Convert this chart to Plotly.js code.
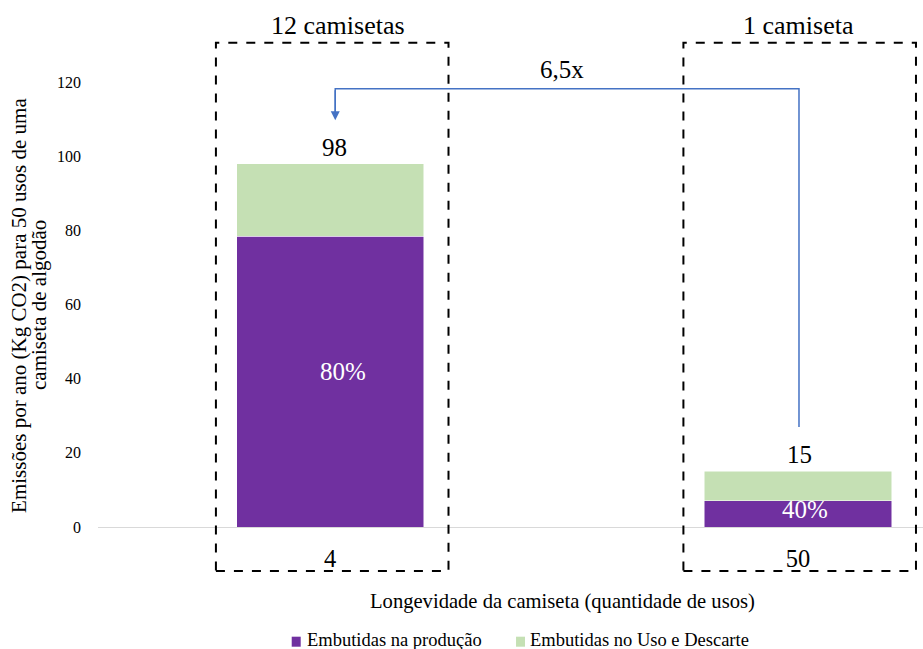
<!DOCTYPE html>
<html>
<head>
<meta charset="utf-8">
<script src="https://cdn.plot.ly/plotly-3.0.1.min.js"></script>
<style>html,body{margin:0;padding:0;background:#fff;}#chart{width:923px;height:649px;}</style>
</head>
<body>
<div id="chart"></div>
<script>
// Data
const categories = ['4', '50'];
const groupLabels = ['12 camisetas', '1 camiseta'];
const producao = [78.4, 7.1];
const usoDescarte = [19.6, 7.9];
const totals = [98, 15];
const pctLabels = ['80%', '40%'];
const ratioLabel = '6,5x';
const seriesNames = ['Embutidas na produção', 'Embutidas no Uso e Descarte'];
const yTicks = [0, 20, 40, 60, 80, 100, 120];
const yTitleLines = ['Emissões por ano (Kg CO2) para 50 usos de uma', 'camiseta de algodão'];
const xTitle = 'Longevidade da camiseta (quantidade de usos)';

const FONT = "'Liberation Serif', 'Times New Roman', serif";
const PURPLE = '#7030A0';
const GREEN = '#C5E0B4';
const BLUE = '#4472C4';
const colors = [PURPLE, GREEN];

const traces = [
  {type: 'bar', x: [0, 1], y: producao, name: seriesNames[0], marker: {color: PURPLE, line: {color: '#ffffff', width: 0.5}}, width: 0.4, hoverinfo: 'skip'},
  {type: 'bar', x: [0, 1], y: usoDescarte, name: seriesNames[1], marker: {color: GREEN, line: {color: '#ffffff', width: 0.5}}, width: 0.4, hoverinfo: 'skip'}
];

const annotations = [];
// totals above bars
totals.forEach((t, i) => annotations.push({x: i, y: t, xref: 'x', yref: 'y', text: String(t), showarrow: false, yanchor: 'bottom', yshift: 1, xshift: i === 0 ? 4 : 1, font: {family: FONT, size: 25, color: '#000'}}));
// percentages inside purple
pctLabels.forEach((p, i) => annotations.push({x: i, y: producao[i] / 2, xref: 'x', yref: 'y', text: p, showarrow: false, xshift: i === 0 ? 13 : 7, yshift: i === 0 ? 10 : 4, font: {family: FONT, size: 25, color: '#fff'}}));
// group labels
groupLabels.forEach((g, i) => annotations.push({x: i === 0 ? 0.017 : 1.002, y: 1.128, xref: 'x', yref: 'paper', yanchor: 'middle', xanchor: 'center', text: g, showarrow: false, font: {family: FONT, size: 26, color: '#000'}}));
// ratio label
annotations.push({x: 0.496, y: 1.027, xref: 'x', yref: 'paper', yanchor: 'middle', xanchor: 'center', text: ratioLabel, showarrow: false, font: {family: FONT, size: 25, color: '#000'}});
// arrow head
annotations.push({x: 0.011, y: 109.7, xref: 'x', yref: 'y', ax: 0.011, ay: 118.2, axref: 'x', ayref: 'y', text: '', showarrow: true, arrowhead: 2, arrowsize: 1.2, arrowwidth: 1.5, arrowcolor: BLUE});
// y axis title lines
yTitleLines.forEach((t, i) => annotations.push({x: i === 0 ? -0.0958 : -0.0715, y: 0.499, xref: 'paper', yref: 'paper', xanchor: 'center', yanchor: 'middle', textangle: -90, text: t, showarrow: false, font: {family: FONT, size: 21, color: '#000'}}));
// x axis title
annotations.push({x: 0.5636, y: -0.1663, xref: 'paper', yref: 'paper', xanchor: 'center', yanchor: 'middle', text: xTitle, showarrow: false, font: {family: FONT, size: 20.6, color: '#000'}});
// legend text
const legX = [0.2509, 0.5215];
const legSq = [[0.2348, 0.2457], [0.5067, 0.5176]];
seriesNames.forEach((n, i) => annotations.push({x: legX[i], y: -0.254, xref: 'paper', yref: 'paper', xanchor: 'left', yanchor: 'middle', text: n, showarrow: false, font: {family: FONT, size: 18.5, color: '#000'}}));

const dash = {color: '#000', width: 2, dash: 'dash'};
const shapes = [
  {type: 'rect', xref: 'x', yref: 'paper', x0: -0.244, x1: 0.253, y0: -0.099, y1: 1.088, line: dash},
  {type: 'rect', xref: 'x', yref: 'paper', x0: 0.755, x1: 1.252, y0: -0.099, y1: 1.088, line: dash},
  {type: 'path', xref: 'x', yref: 'y', path: 'M 1.002 27 L 1.002 118.2 L 0.011 118.2 L 0.011 111', line: {color: BLUE, width: 1.5}}
];
legSq.forEach((s, i) => shapes.push({type: 'rect', xref: 'paper', yref: 'paper', x0: s[0], x1: s[1], y0: -0.2465, y1: -0.269, fillcolor: colors[i], line: {width: 0}}));

const layout = {
  width: 923, height: 649,
  margin: {l: 98, r: 0, t: 82, b: 122},
  paper_bgcolor: '#fff', plot_bgcolor: '#fff',
  font: {family: FONT, color: '#000'},
  barmode: 'stack',
  showlegend: false,
  xaxis: {
    range: [-0.496, 1.267], tickmode: 'array', tickvals: [0, 1], ticktext: categories,
    showgrid: false, zeroline: false, showline: false, ticks: '',
    tickfont: {family: FONT, size: 24.5, color: '#000'}, ticklabelstandoff: 14
  },
  yaxis: {
    range: [0, 120], tickmode: 'array', tickvals: yTicks,
    showgrid: false, zeroline: true, zerolinecolor: '#D9D9D9', zerolinewidth: 1, showline: false, ticks: '',
    tickfont: {family: FONT, size: 16, color: '#000'}, ticklabelstandoff: 16
  },
  annotations: annotations,
  shapes: shapes
};

Plotly.newPlot('chart', traces, layout, {staticPlot: true, displayModeBar: false});
</script>
</body>
</html>
